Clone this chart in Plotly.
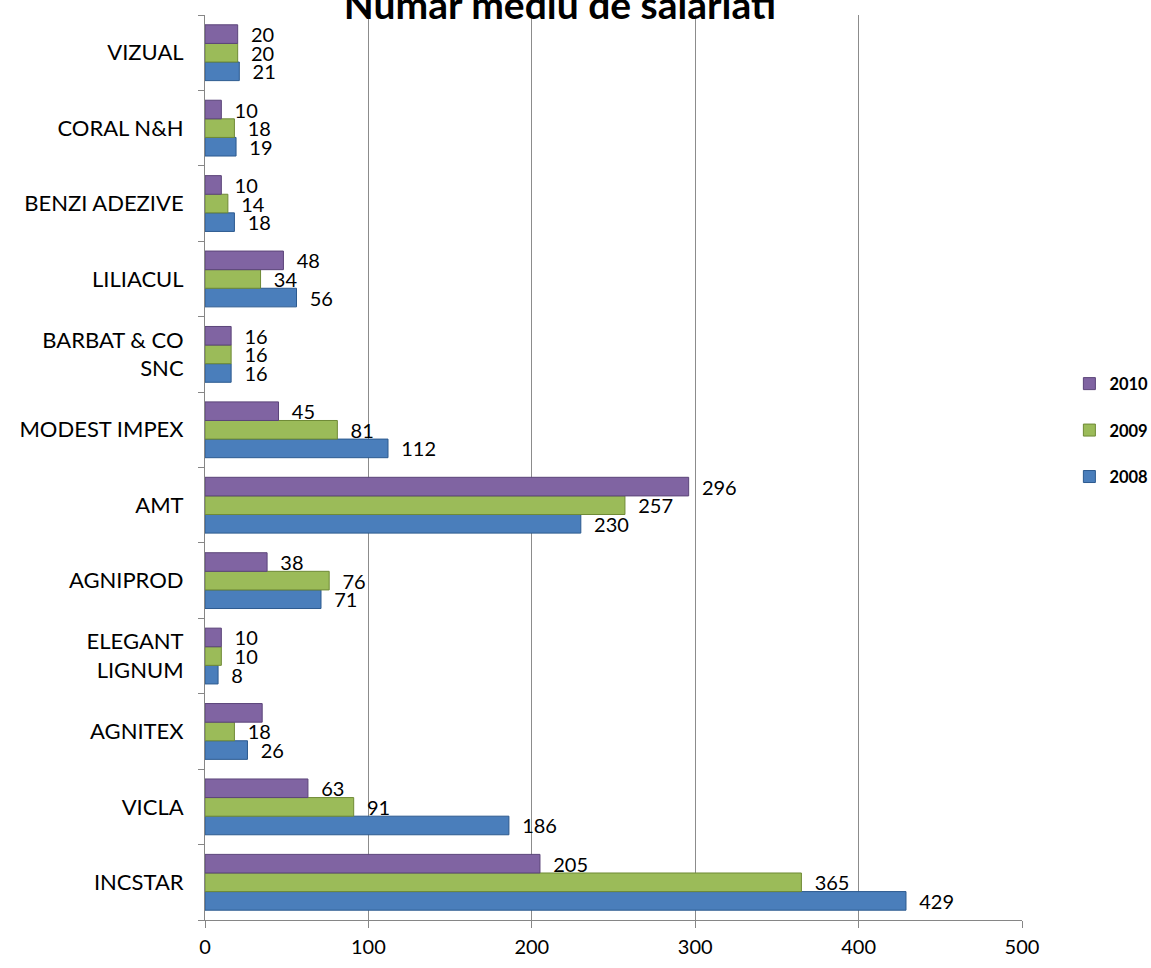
import plotly.graph_objects as go

categories = ["INCSTAR", "VICLA", "AGNITEX", "ELEGANT<br>LIGNUM", "AGNIPROD", "AMT",
              "MODEST IMPEX", "BARBAT & CO<br>SNC", "LILIACUL", "BENZI ADEZIVE",
              "CORAL N&H", "VIZUAL"]
v2008 = [429, 186, 26, 8, 71, 230, 112, 16, 56, 18, 19, 21]
v2009 = [365, 91, 18, 10, 76, 257, 81, 16, 34, 14, 18, 20]
v2010 = [205, 63, 35, 10, 38, 296, 45, 16, 48, 10, 10, 20]
hidden_2010 = ["AGNITEX"]  # label not shown in the reference

series = [("2008", v2008, "#4A7EBB", "#2C5A8F", 3),
          ("2009", v2009, "#9BBB59", "#6F8A36", 2),
          ("2010", v2010, "#8064A2", "#5B4479", 1)]

FONT = "Lato"
fig = go.Figure()
for name, vals, col, edge, rank in series:
    texts = [("" if (name == "2010" and c in hidden_2010) else str(v)) for c, v in zip(categories, vals)]
    fig.add_trace(go.Bar(
        name=name, y=categories, x=vals, orientation="h", legendgroup=name,
        legendrank=rank,
        marker=dict(color=col, line=dict(color=edge, width=1)),
        text=texts, texttemplate="  %{text}", textposition="outside",
        cliponaxis=False, constraintext="none",
        textfont=dict(family=FONT, size=20, color="black"),
    ))

fig.update_layout(
    width=1151, height=968,
    paper_bgcolor="white", plot_bgcolor="white",
    barmode="group", bargap=0.26, bargroupgap=0,
    margin=dict(l=205, r=129, t=15, b=48, autoexpand=False),
    title=dict(text="Numar mediu de salariati", x=0.4865, xanchor="center",
               y=0.994, yanchor="middle", yref="container",
               font=dict(family=FONT, size=39, color="black", weight="bold")),
    font=dict(family=FONT, size=22, color="black"),
    legend=dict(traceorder="grouped", x=1.058, xanchor="left", y=0.541, yanchor="middle",
                font=dict(family=FONT, size=16.5, color="black", weight="bold"),
                itemwidth=30, tracegroupgap=22),
    showlegend=True,
)
fig.update_xaxes(range=[0, 500], dtick=100, showgrid=True, gridcolor="#8c8c8c", gridwidth=1,
                 showline=True, linecolor="#868686", ticks="outside", ticklen=7,
                 tickcolor="#868686", zeroline=False, tickfont=dict(size=20),
                 ticklabelstandoff=2)
fig.update_yaxes(showline=True, linecolor="#868686", ticks="outside", ticklen=6,
                 tickcolor="#868686", tickson="boundaries", showgrid=False,
                 tickfont=dict(size=22), ticklabelstandoff=16)
fig.write_html("out.html", config={"displayModeBar": False},
               post_script="document.body.style.margin='0';")
